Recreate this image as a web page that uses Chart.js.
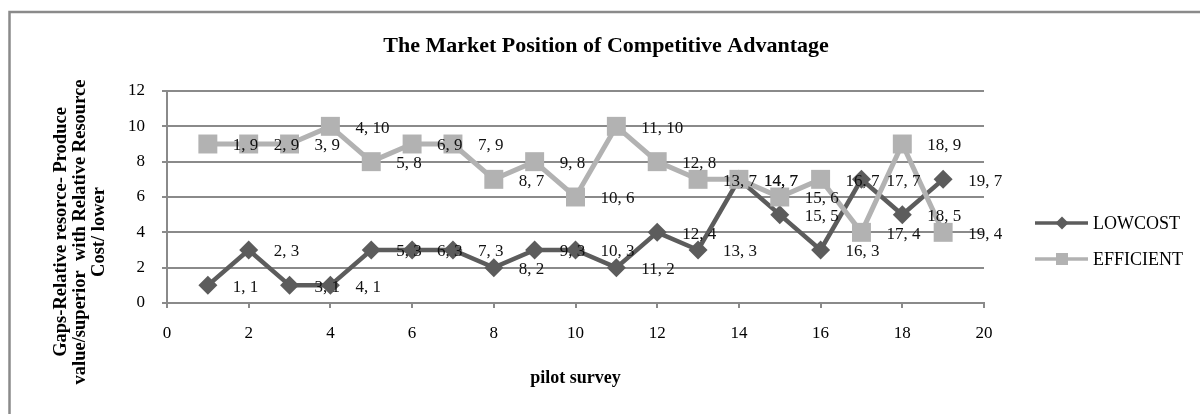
<!DOCTYPE html>
<html>
<head>
<meta charset="utf-8">
<script src="https://cdn.jsdelivr.net/npm/chart.js@4.4.1/dist/chart.umd.min.js"></script>
<style>
html,body{margin:0;padding:0;background:#fff;}
canvas{display:block;}
</style>
</head>
<body>
<canvas id="c" width="1200" height="414"></canvas>
<script>
// ---- data ----
const pilotSurvey = [1,2,3,4,5,6,7,8,9,10,11,12,13,14,15,16,17,18,19];
const lowcostValues = [1,3,1,1,3,3,3,2,3,3,2,4,3,7,5,3,7,5,7];
const efficientValues = [9,9,9,10,8,9,9,7,8,6,10,8,7,7,6,7,4,9,4];
const seriesNames = ['LOWCOST', 'EFFICIENT'];
const xTickValues = [0,2,4,6,8,10,12,14,16,18,20];
const yTickValues = [0,2,4,6,8,10,12];
const chartTitle = 'The Market Position of Competitive Advantage';
const xAxisTitle = 'pilot survey';
const yAxisTitleLines = ['Gaps-Relative resorce- Produce', 'value/superior  with Relative Resource', 'Cost/ lower'];

// ---- styles ----
const SERIF = '"Liberation Serif", "Times New Roman", serif';
const gridColor = '#8a8a8a';
const lowColor = '#5c5c5c';
const effColor = '#b2b2b2';

const extras = {
  id: 'extras',
  beforeDraw(chart) {
    const ctx = chart.ctx;
    ctx.save();
    ctx.fillStyle = '#fff';
    ctx.fillRect(0, 0, chart.width, chart.height);
    ctx.strokeStyle = '#8a8a8a';
    ctx.lineWidth = 2.5;
    ctx.beginPath();
    ctx.moveTo(9.5, chart.height + 5);
    ctx.lineTo(9.5, 12);
    ctx.lineTo(chart.width + 5, 12);
    ctx.stroke();
    ctx.restore();
  },
  afterDatasetsDraw(chart) {
    const ctx = chart.ctx;
    ctx.save();
    ctx.font = '17px ' + SERIF;
    ctx.fillStyle = '#111';
    ctx.textAlign = 'left';
    ctx.textBaseline = 'middle';
    chart.data.datasets.forEach((ds, di) => {
      const meta = chart.getDatasetMeta(di);
      meta.data.forEach((el, i) => {
        const p = ds.data[i];
        ctx.fillText(p.x + ', ' + p.y, el.x + 25, el.y + 2);
      });
    });
    ctx.restore();
  },
  afterDraw(chart) {
    const ctx = chart.ctx;
    ctx.save();
    // y axis title
    ctx.font = 'bold 18.5px ' + SERIF;
    ctx.fillStyle = '#000';
    ctx.textAlign = 'center';
    ctx.textBaseline = 'middle';
    const xs = [61, 80, 99];
    yAxisTitleLines.forEach((t, i) => {
      ctx.save();
      ctx.translate(xs[i], 232);
      ctx.rotate(-Math.PI / 2);
      ctx.fillText(t, 0, 0);
      ctx.restore();
    });
    // legend
    const items = chart.data.datasets;
    const ys = [223, 259];
    items.forEach((ds, i) => {
      const y = ys[i];
      ctx.strokeStyle = ds.borderColor;
      ctx.lineWidth = 3.5;
      ctx.beginPath();
      ctx.moveTo(1035, y);
      ctx.lineTo(1088, y);
      ctx.stroke();
      ctx.fillStyle = ds.borderColor;
      ctx.beginPath();
      if (ds.pointStyle === 'rectRot') {
        ctx.moveTo(1062, y - 6.5);
        ctx.lineTo(1068.5, y);
        ctx.lineTo(1062, y + 6.5);
        ctx.lineTo(1055.5, y);
        ctx.closePath();
      } else {
        ctx.rect(1056, y - 6, 12, 12);
      }
      ctx.fill();
      ctx.fillStyle = '#000';
      ctx.font = '18px ' + SERIF;
      ctx.textAlign = 'left';
      ctx.textBaseline = 'middle';
      ctx.fillText(ds.label, 1093, y + 1);
    });
    ctx.restore();
  }
};

new Chart(document.getElementById('c'), {
  type: 'line',
  data: {
    datasets: [
      {
        label: seriesNames[0],
        data: pilotSurvey.map((x, i) => ({x: x, y: lowcostValues[i]})),
        borderColor: lowColor,
        backgroundColor: lowColor,
        borderWidth: 4.5,
        pointStyle: 'rectRot',
        pointRadius: 9.5,
        pointBorderWidth: 0,
        pointBackgroundColor: lowColor,
        tension: 0,
        order: 1
      },
      {
        label: seriesNames[1],
        data: pilotSurvey.map((x, i) => ({x: x, y: efficientValues[i]})),
        borderColor: effColor,
        backgroundColor: effColor,
        borderWidth: 5,
        pointStyle: 'rect',
        pointRadius: 13.4,
        pointBorderWidth: 0,
        pointBackgroundColor: effColor,
        tension: 0,
        order: 0
      }
    ]
  },
  options: {
    responsive: false,
    animation: false,
    devicePixelRatio: 1,
    layout: {padding: {left: 12, right: 0, top: 0, bottom: 0}},
    plugins: {
      legend: {display: false},
      tooltip: {enabled: false},
      title: {
        display: true,
        text: chartTitle,
        color: '#000',
        font: {family: SERIF, size: 22, weight: 'bold', lineHeight: 1.2},
        padding: {top: 33.3, bottom: 31.3}
      }
    },
    scales: {
      x: {
        type: 'linear',
        position: 'bottom',
        min: 0, max: 20,
        afterBuildTicks: (axis) => { axis.ticks = xTickValues.map(v => ({value: v})); },
        afterFit: (axis) => { axis.height = 111; },
        grid: {drawOnChartArea: false, drawTicks: true, tickLength: 5, color: gridColor, lineWidth: 2},
        border: {display: true, color: gridColor, width: 2},
        ticks: {color: '#000', font: {family: SERIF, size: 17}, padding: 15, maxRotation: 0},
        title: {
          display: true,
          text: xAxisTitle,
          color: '#000',
          font: {family: SERIF, size: 18, weight: 'bold', lineHeight: 1.2},
          padding: {top: 0, bottom: 25}
        }
      },
      y: {
        type: 'linear',
        position: 'left',
        min: 0, max: 12,
        afterBuildTicks: (axis) => { axis.ticks = yTickValues.map(v => ({value: v})); },
        afterFit: (axis) => { axis.width = 155; },
        grid: {drawTicks: true, tickLength: 5, color: gridColor, lineWidth: 2},
        border: {display: true, color: gridColor, width: 2},
        ticks: {color: '#000', font: {family: SERIF, size: 17}, padding: 17}
      },
      yR: {
        type: 'linear',
        position: 'right',
        display: true,
        grid: {display: false},
        border: {display: false},
        ticks: {display: false},
        afterFit: (axis) => { axis.width = 216; }
      }
    }
  },
  plugins: [extras]
});
</script>
</body>
</html>
